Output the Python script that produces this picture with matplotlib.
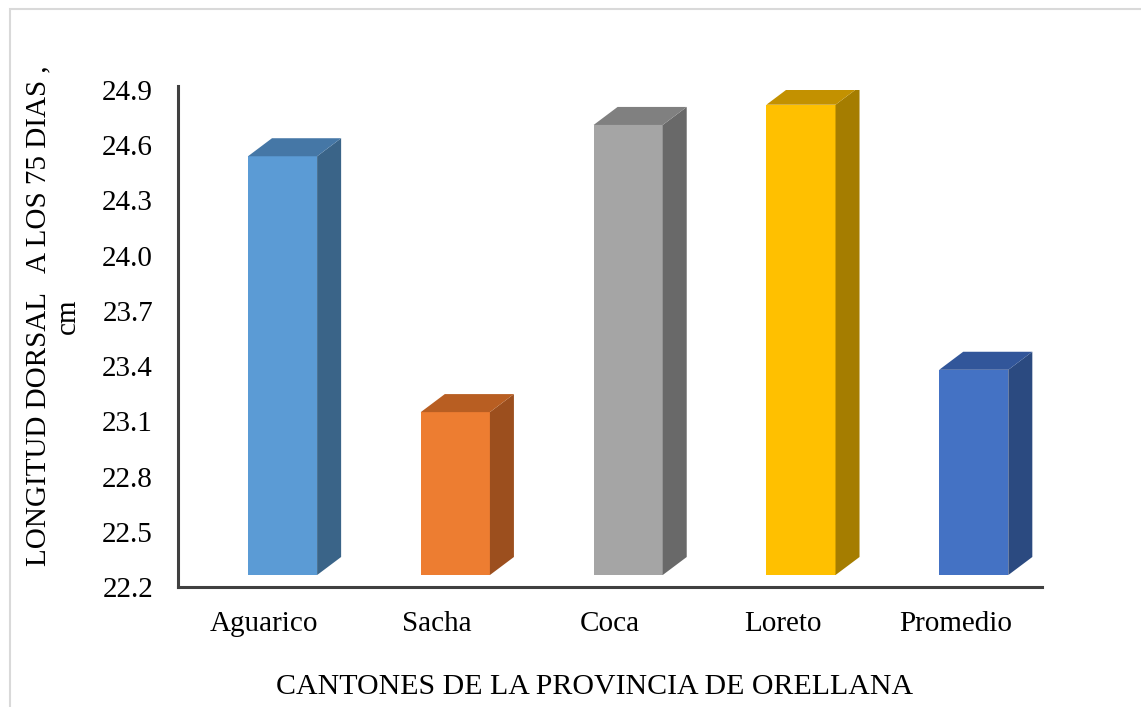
import matplotlib.pyplot as plt
from matplotlib.patches import Polygon, Rectangle

cantones = ['Aguarico', 'Sacha', 'Coca', 'Loreto', 'Promedio']
longitud = [24.54, 23.15, 24.71, 24.82, 23.38]
y_ticks = [22.2, 22.5, 22.8, 23.1, 23.4, 23.7, 24.0, 24.3, 24.6, 24.9]

front = ['#5B9BD5', '#ED7D31', '#A5A5A5', '#FFC000', '#4472C4']
side = ['#3A6488', '#9C4F1E', '#696969', '#A57D00', '#2B4A80']
top = ['#4577A6', '#B85E22', '#808080', '#C39100', '#32569A']

plt.rcParams['font.family'] = ['Liberation Serif', 'DejaVu Serif']

fig = plt.figure(figsize=(11.41, 7.07), dpi=100)
ax = fig.add_axes([178 / 1141, 1 - 587 / 707, 864 / 1141, 497 / 707])

# light frame of the chart area
fig.add_artist(Rectangle((10 / 1141, -0.1), 1.2, 1 - 9 / 707 + 0.1,
                         transform=fig.transFigure, fill=False,
                         edgecolor='#D9D9D9', linewidth=1.5))

base = 22.265   # floor of the pseudo 3d bars
off = 0.105     # bars sit a bit right of the label
w = 0.40
dx, dy = 0.139, 0.098

for i, v in enumerate(longitud):
    xl = i + off - w / 2
    xr = i + off + w / 2
    ax.bar(i + off, v - base, bottom=base, width=w, color=front[i],
           edgecolor='none', zorder=3)
    ax.add_patch(Polygon([(xr, base), (xr + dx, base + dy), (xr + dx, v + dy), (xr, v)],
                         closed=True, facecolor=side[i], edgecolor='none', zorder=3))
    ax.add_patch(Polygon([(xl, v), (xl + dx, v + dy), (xr + dx, v + dy), (xr, v)],
                         closed=True, facecolor=top[i], edgecolor='none', zorder=3))

ax.set_xlim(-0.5, 4.5)
ax.set_ylim(22.2, 24.9)
ax.set_yticks(y_ticks)
ax.set_yticklabels(['%.1f' % t for t in y_ticks])
ax.set_xticks(range(len(cantones)))
ax.set_xticklabels(cantones)
ax.tick_params(axis='both', length=0, labelsize=21)
ax.tick_params(axis='y', pad=18)
ax.tick_params(axis='x', pad=17)

for s in ['top', 'right']:
    ax.spines[s].set_visible(False)
for s in ['left', 'bottom']:
    ax.spines[s].set_color('#404040')
    ax.spines[s].set_linewidth(2.2)
ax.spines['left'].set_bounds(22.2, 24.92)

fig.text(53 / 1141, 1 - 316 / 707, 'LONGITUD DORSAL   A LOS 75 DIAS ,\ncm',
         rotation=90, ha='center', va='center', multialignment='center',
         fontsize=21, linespacing=1.2)
fig.text(595 / 1141, 1 - 687 / 707, 'CANTONES DE LA PROVINCIA DE ORELLANA',
         ha='center', va='center', fontsize=21.5)

fig.savefig('out.png', dpi=100)
